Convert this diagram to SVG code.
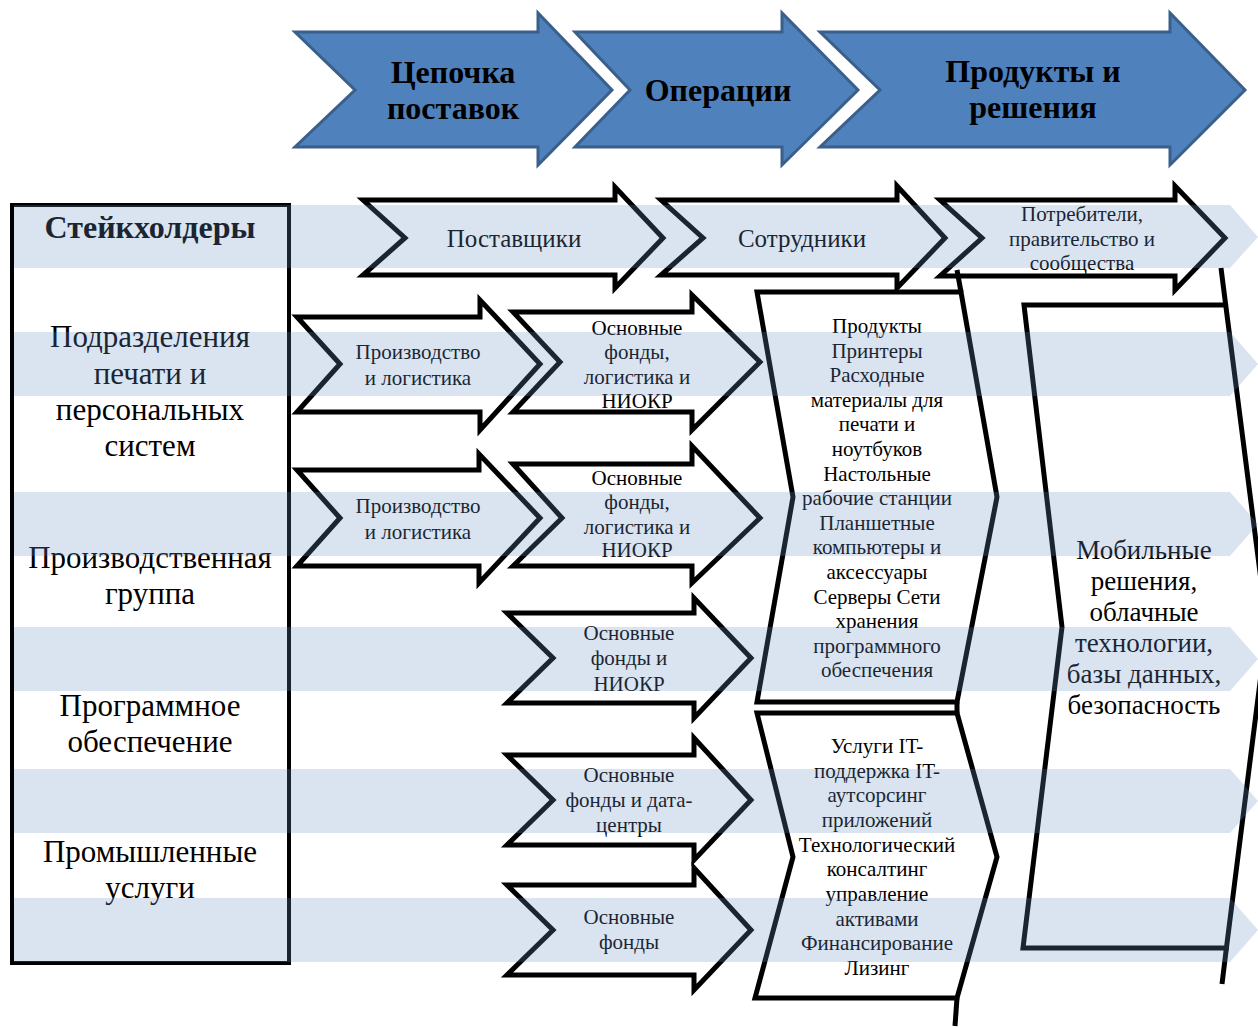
<svg xmlns="http://www.w3.org/2000/svg" width="1258" height="1028" viewBox="0 0 1258 1028">
<defs>
<style>
.blue{fill:#4f81bd;stroke:#3a5f8b;stroke-width:3;stroke-linejoin:miter}
.blk{fill:none;stroke:#000;stroke-width:5;stroke-linejoin:miter}
.ln{fill:none;stroke:#000;stroke-width:5}
.band{fill:rgb(109,142,194);opacity:0.25}
text{font-family:"Liberation Serif","Times New Roman",serif;fill:#000;text-anchor:middle}
.hb{font-size:32px;font-weight:bold}
.lg{font-size:31px}
.md{font-size:25px}
.sm{font-size:21px}
.mb{font-size:27px}
</style>
</defs>
<rect width="1258" height="1028" fill="#fff"/>

<g id="stage-supply">
<polygon class="blue" points="295,32 538,32 538,13 612,90 538,165 538,147 295,147 355,90"/>
<text class="hb" x="453" y="83">Цепочка</text>
<text class="hb" x="453" y="119">поставок</text>
</g>
<g id="stage-operations">
<polygon class="blue" points="575,32 782,32 782,13 858,90 782,165 782,147 575,147 630,90"/>
<text class="hb" x="718" y="101">Операции</text>
</g>
<g id="stage-products">
<polygon class="blue" points="820,32 1170,32 1170,13 1245,90 1170,165 1170,147 820,147 880,90"/>
<text class="hb" x="1033" y="82">Продукты и</text>
<text class="hb" x="1033" y="118">решения</text>
</g>

<g id="stakeholders-box">
<rect x="12" y="205" width="277" height="758" fill="none" stroke="#000" stroke-width="4"/>
<text class="hb" x="150" y="238">Стейкхолдеры</text>
<text class="lg" x="150" y="347">Подразделения</text>
<text class="lg" x="150" y="384">печати и</text>
<text class="lg" x="150" y="420">персональных</text>
<text class="lg" x="150" y="456">систем</text>
<text class="lg" x="150" y="568">Производственная</text>
<text class="lg" x="150" y="604">группа</text>
<text class="lg" x="150" y="716">Программное</text>
<text class="lg" x="150" y="752">обеспечение</text>
<text class="lg" x="150" y="862">Промышленные</text>
<text class="lg" x="150" y="898">услуги</text>
</g>

<g id="suppliers">
<polygon class="blk" points="363,200 615,200 615,187 663,238 615,288 615,275 363,275 405,238"/>
<text class="md" x="514" y="247">Поставщики</text>
</g>
<g id="employees">
<polygon class="blk" points="661,200 897,200 897,186 945,238 897,288 897,275 661,275 703,238"/>
<text class="md" x="802" y="247">Сотрудники</text>
</g>
<g id="consumers">
<polygon class="blk" points="940,200 1175,200 1175,186 1225,238 1175,290 1175,276 940,276 982,238"/>
<text class="sm" x="1082" y="221">Потребители,</text>
<text class="sm" x="1082" y="246">правительство и</text>
<text class="sm" x="1082" y="270">сообщества</text>
</g>

<g id="production-1">
<polygon class="blk" points="297,317 480,317 480,300 540,364 480,430 480,412 297,412 340,364"/>
<text class="sm" x="418" y="359">Производство</text>
<text class="sm" x="418" y="385">и логистика</text>
</g>
<g id="assets-1">
<polygon class="blk" points="513,312 692,312 692,295 760,362 692,430 692,412 513,412 560,362"/>
<text class="sm" x="637" y="335">Основные</text>
<text class="sm" x="637" y="359">фонды,</text>
<text class="sm" x="637" y="384">логистика и</text>
<text class="sm" x="637" y="408">НИОКР</text>
</g>
<g id="production-2">
<polygon class="blk" points="297,470 479,470 479,454 540,518 479,583 479,566 297,566 340,518"/>
<text class="sm" x="418" y="513">Производство</text>
<text class="sm" x="418" y="539">и логистика</text>
</g>
<g id="assets-2">
<polygon class="blk" points="513,464 692,464 692,446 760,518 692,583 692,566 513,566 562,518"/>
<text class="sm" x="637" y="485">Основные</text>
<text class="sm" x="637" y="509">фонды,</text>
<text class="sm" x="637" y="534">логистика и</text>
<text class="sm" x="637" y="557">НИОКР</text>
</g>
<g id="assets-3">
<polygon class="blk" points="507,613 694,613 694,598 751,658 694,718 694,703 507,703 553,658"/>
<text class="sm" x="629" y="640">Основные</text>
<text class="sm" x="629" y="665">фонды и</text>
<text class="sm" x="629" y="691">НИОКР</text>
</g>
<g id="assets-4">
<polygon class="blk" points="507,755 694,755 694,738 751,800 694,860 694,845 507,845 553,800"/>
<text class="sm" x="629" y="782">Основные</text>
<text class="sm" x="629" y="807">фонды и дата-</text>
<text class="sm" x="629" y="832">центры</text>
</g>
<g id="assets-5">
<polygon class="blk" points="507,885 694,885 694,868 751,930 694,990 694,975 507,975 553,930"/>
<text class="sm" x="629" y="924">Основные</text>
<text class="sm" x="629" y="949">фонды</text>
</g>

<g id="products">
<polygon class="blk" points="757,292 961,292 997,497 957,702 757,702 793,497"/>
<path class="ln" d="M957,270 L961,292 M957,702 L957,713"/>
<text class="sm" x="877" y="333">Продукты</text>
<text class="sm" x="877" y="357.6">Принтеры</text>
<text class="sm" x="877" y="382.2">Расходные</text>
<text class="sm" x="877" y="406.8">материалы для</text>
<text class="sm" x="877" y="431.4">печати и</text>
<text class="sm" x="877" y="456">ноутбуков</text>
<text class="sm" x="877" y="480.6">Настольные</text>
<text class="sm" x="877" y="505.2">рабочие станции</text>
<text class="sm" x="877" y="529.8">Планшетные</text>
<text class="sm" x="877" y="554.4">компьютеры и</text>
<text class="sm" x="877" y="579">аксессуары</text>
<text class="sm" x="877" y="603.6">Серверы Сети</text>
<text class="sm" x="877" y="628.2">хранения</text>
<text class="sm" x="877" y="652.8">программного</text>
<text class="sm" x="877" y="677.4">обеспечения</text>
</g>
<g id="services">
<polygon class="blk" points="757,713 957,713 997,857 957,998 755,998 793,857"/>
<path class="ln" d="M957,998 L955,1026"/>
<text class="sm" x="877" y="753">Услуги IT-</text>
<text class="sm" x="877" y="777.7">поддержка IT-</text>
<text class="sm" x="877" y="802.3">аутсорсинг</text>
<text class="sm" x="877" y="827">приложений</text>
<text class="sm" x="877" y="851.7">Технологический</text>
<text class="sm" x="877" y="876.3">консалтинг</text>
<text class="sm" x="877" y="901">управление</text>
<text class="sm" x="877" y="925.7">активами</text>
<text class="sm" x="877" y="950.3">Финансирование</text>
<text class="sm" x="877" y="975">Лизинг</text>
</g>
<g id="solutions">
<polygon class="blk" points="1024,305 1225.7,305 1267,627 1226.4,948 1023,948 1062,627"/>
<path class="ln" d="M1221,268 L1225.7,305 M1226.4,948 L1222,984"/>
<text class="mb" x="1144" y="559">Мобильные</text>
<text class="mb" x="1144" y="590">решения,</text>
<text class="mb" x="1144" y="621">облачные</text>
<text class="mb" x="1144" y="652">технологии,</text>
<text class="mb" x="1144" y="683">базы данных,</text>
<text class="mb" x="1144" y="714">безопасность</text>
</g>

<g id="connectors"></g>

<g id="bands">
<polygon class="band" points="14,205 1230,205 1258,237 1230,268 14,268"/>
<polygon class="band" points="14,332 1230,332 1258,364 1230,396 14,396"/>
<polygon class="band" points="14,492 1230,492 1258,524 1230,556 14,556"/>
<polygon class="band" points="14,627 1230,627 1258,659 1230,691 14,691"/>
<polygon class="band" points="14,769 1230,769 1258,801 1230,833 14,833"/>
<polygon class="band" points="14,898 1230,898 1258,930 1230,962 14,962"/>
</g>
</svg>
